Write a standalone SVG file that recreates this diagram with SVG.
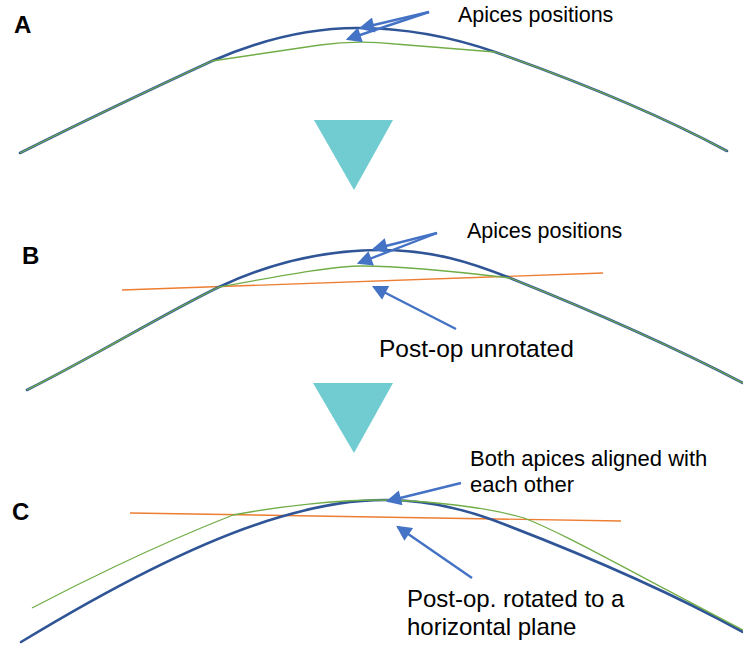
<svg xmlns="http://www.w3.org/2000/svg" width="743" height="647" viewBox="0 0 743 647">
<defs>
<style>
.lbl{font-family:"Liberation Sans",Arial,sans-serif;font-weight:bold;font-size:24px;fill:#000}
.t{font-family:"Liberation Sans",Arial,sans-serif;fill:#000}
.blue{fill:none;stroke:#2F5597;stroke-width:2.6;stroke-linecap:round}
.green{fill:none;stroke:#70AD47;stroke-width:1.3;stroke-linejoin:round}
.orange{fill:none;stroke:#ED7D31;stroke-width:1.4}
.arr{fill:none;stroke:#4472C4;stroke-width:2.4;marker-end:url(#ah)}
.tri{fill:#70CCD0}
</style>
<marker id="ah" viewBox="0 0 10 10" refX="8.5" refY="5" markerWidth="7.4" markerHeight="6.4" orient="auto">
<path d="M0,0 L10,5 L0,10 Z" fill="#4472C4"/>
</marker>
</defs>

<g id="panelA">
<text class="lbl" x="14" y="33">A</text>
<path class="blue" d="M20,153 C90,118 160,85 212,61 C260,40 310,28 357,28 C410,28 455,38 495,52 C580,82 660,115 727,151"/>
<path class="green" d="M20,153 C90,118 160,85 212,61 L320,45 Q357,40 395,44 L495,52 C580,82 660,115 727,151"/>
<text class="t" x="458" y="22" font-size="21.5">Apices positions</text>
</g>

<g id="arrowAB">
<path class="tri" d="M314,120 L393,120 L354,190 Z"/>
</g>

<g id="panelB">
<text class="lbl" x="22" y="264">B</text>
<path class="orange" d="M122,290 L603,273"/>
<path class="blue" d="M27,390 C95,356 165,313 219,287 C270,263 325,250 381,250 C432,250 470,262 510,278 C590,310 670,345 743,383"/>
<path class="green" d="M27,390 C95,356 165,313 219,287 C270,278 330,266 362,266 C400,266 460,272 510,278 C590,310 670,345 743,383"/>
<text class="t" x="467" y="238" font-size="21.5">Apices positions</text>
<text class="t" x="379" y="357" font-size="24.5">Post-op unrotated</text>
</g>

<g id="arrowBC">
<path class="tri" d="M313,383 L393,383 L354,453 Z"/>
</g>

<g id="panelC">
<text class="lbl" x="12" y="520">C</text>
<path class="orange" d="M130,513 L621,521"/>
<path class="blue" d="M21,642 C110,588 200,540 280,517 C325,504 355,500 386,500 C425,500 460,508 493,520 C580,553 670,592 743,632"/>
<path class="green" d="M32,608 C70,588 95,576 114,567 C160,545 200,528 233,515 C280,506 340,500 376,500 C430,500 490,508 524,518 C560,532 600,555 743,630"/>
<text class="t" x="470" y="466" font-size="22">Both apices aligned with</text>
<text class="t" x="470" y="492" font-size="22">each other</text>
<text class="t" x="407" y="607" font-size="24">Post-op. rotated to a</text>
<text class="t" x="407" y="635" font-size="24">horizontal plane</text>
</g>

<g id="connectors">
<path class="arr" d="M429,12 L361,28"/>
<path class="arr" d="M429,12 L348,39"/>
<path class="arr" d="M437,233 L374,249"/>
<path class="arr" d="M437,233 L359,263"/>
<path class="arr" d="M456,329 L374,287"/>
<path class="arr" d="M461,483 L388,501"/>
<path class="arr" d="M472,578 L398,527"/>
</g>
</svg>
